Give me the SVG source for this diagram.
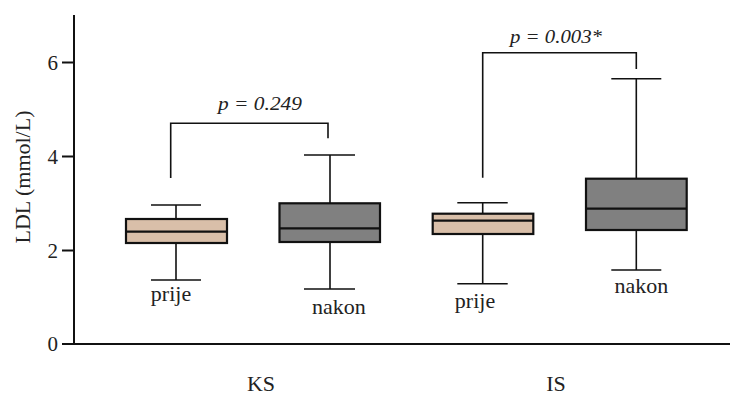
<svg xmlns="http://www.w3.org/2000/svg" width="730" height="395" viewBox="0 0 730 395">
<style>
text{font-family:'Liberation Serif','DejaVu Serif',serif;fill:#222}
.ax{stroke:#111;stroke-width:2;fill:none}
.ln{stroke:#111;stroke-width:1.6;fill:none}
.box{stroke:#111;stroke-width:2.2}
.pre{fill:#d9bfa9}
.post{fill:#808080}
.tick{font-size:21px;text-anchor:end}
.lbl{font-size:22px;text-anchor:middle}
.p{font-size:18px;font-style:italic;text-anchor:middle}
</style>
<rect width="730" height="395" fill="#fff"/>
<g id="axes">
<path class="ax" d="M74 15V344M62 344H730M62 62.5H74M62 156.5H74M62 250.5H74"/>
<text class="tick" x="58" y="70">6</text>
<text class="tick" x="58" y="164">4</text>
<text class="tick" x="58" y="258">2</text>
<text class="tick" x="58" y="351">0</text>
<text class="lbl" transform="translate(30,177) rotate(-90)">LDL (mmol/L)</text>
<text class="lbl" x="261" y="391">KS</text>
<text class="lbl" x="556" y="391">IS</text>
</g>
<g id="ks-prije">
<path class="ln" d="M176 205V280M151 205H201M151 280H201"/>
<rect class="box pre" x="126" y="219" width="101" height="24"/>
<path class="box" d="M126 231.7H227"/>
<text class="lbl" x="171" y="301">prije</text>
</g>
<g id="ks-nakon">
<path class="ln" d="M330 155V289M304 155H355M304 289H355"/>
<rect class="box post" x="279.5" y="203.3" width="100.5" height="38.7"/>
<path class="box" d="M279.5 228.3H380"/>
<text class="lbl" x="339" y="314">nakon</text>
</g>
<g id="is-prije">
<path class="ln" d="M482.7 202.7V283.7M457.3 202.7H507.7M457.3 283.7H507.7"/>
<rect class="box pre" x="432.7" y="213.7" width="100.6" height="20.3"/>
<path class="box" d="M432.7 220.7H533.3"/>
<text class="lbl" x="475" y="308">prije</text>
</g>
<g id="is-nakon">
<path class="ln" d="M636.3 78.7V270M611.3 78.7H661.3M611.3 270H661.3"/>
<rect class="box post" x="586" y="178.7" width="100.7" height="51.3"/>
<path class="box" d="M586 208.7H686.7"/>
<text class="lbl" x="641.5" y="293">nakon</text>
</g>
<g id="connectors">
<path class="ln" d="M170.7 178V123.3H328V138.3"/>
<text class="p" x="260" y="110" textLength="84" lengthAdjust="spacingAndGlyphs">p = 0.249</text>
<path class="ln" d="M482.7 177.7V52.7H636.3V69"/>
<text class="p" x="556" y="43" textLength="92" lengthAdjust="spacingAndGlyphs">p = 0.003*</text>
</g>
</svg>
